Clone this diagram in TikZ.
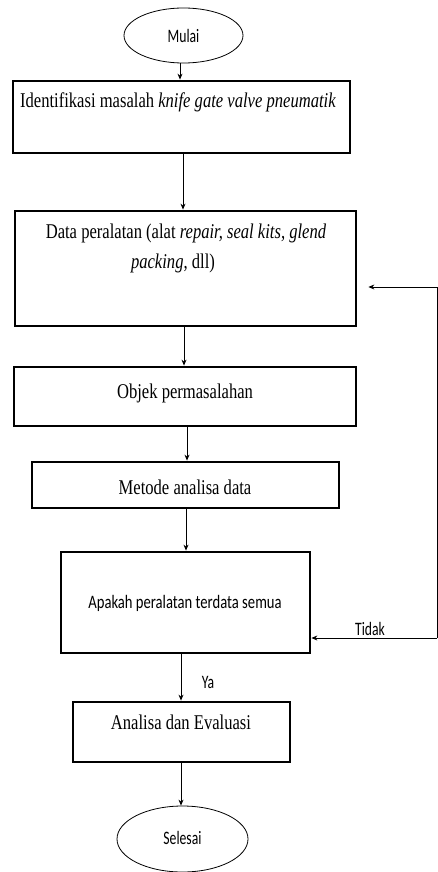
\documentclass[tikz,border=0pt]{standalone}
\usepackage{fontspec}
\setmainfont{Liberation Serif}
\newfontfamily\carl{Carlito}
\usetikzlibrary{shapes.geometric,arrows.meta}
\begin{document}
\begin{tikzpicture}[x=1pt,y=-1pt,
  boxst/.style={draw,line width=2.8pt,inner sep=0pt},
  ovalst/.style={draw,ellipse,line width=0.8pt,inner sep=0pt},
  arr/.style={line width=0.8pt,-{Stealth[length=6pt,width=5pt]}},
  sertext/.style={font=\fontsize{21}{30}\selectfont,xscale=0.79,transform shape,inner sep=0pt,align=center},
  santext/.style={font=\carl\fontsize{19}{23}\selectfont,xscale=0.72,transform shape,inner sep=0pt}]
\useasboundingbox (0,0) rectangle (438,872);
% shapes
\node[ovalst,minimum width=119pt,minimum height=55pt] (start) at (183.5,35.5) {};
\node[boxst,minimum width=337pt,minimum height=72pt] (b1) at (181.5,117) {};
\node[boxst,minimum width=341pt,minimum height=115pt] (b2) at (185.5,268.5) {};
\node[boxst,minimum width=342pt,minimum height=59pt] (b3) at (185,396.5) {};
\node[boxst,minimum width=307pt,minimum height=46pt] (b4) at (185.5,485) {};
\node[boxst,minimum width=249pt,minimum height=101pt] (b5) at (185.5,602.5) {};
\node[boxst,minimum width=217pt,minimum height=60pt] (b6) at (181.5,732) {};
\node[ovalst,minimum width=131pt,minimum height=66pt] (stop) at (182.5,839) {};
% texts
\node[santext] (tstart) at (183.5,35.5) {Mulai};
\node[sertext] (t1) at (178,102) {Identifikasi masalah \textit{knife gate valve pneumatik}};
\node[sertext] (t2) at (186,248.5) {Data peralatan (alat \textit{repair, seal kits, glend}\\\hspace*{-33pt}\textit{packing}, dll)};
\node[sertext] (t3) at (185,393) {Objek permasalahan};
\node[sertext] (t4) at (185,487) {Metode analisa data};
\node[santext,xscale=1.07] (t5) at (185,603) {Apakah peralatan terdata semua};
\node[sertext] (t6) at (181,722) {Analisa dan Evaluasi};
\node[santext] (tstop) at (182.5,838) {Selesai};
\node[santext] (tidak) at (370,629) {Tidak};
\node[santext] (ya) at (208,682) {Ya};
% connectors
\coordinate (r1) at (437,287);
\coordinate (r2) at (437,638);
\draw[arr] (start.south -| 180,0) -- (b1.north -| 180,0);
\draw[arr] (b1.south -| 183,0) -- (b2.north -| 183,0);
\draw[arr] (b2.south -| 184,0) -- (b3.north -| 184,0);
\draw[arr] (b3.south -| 187,0) -- (b4.north -| 187,0);
\draw[arr] (b4.south -| 186,0) -- (b5.north -| 186,0);
\draw[arr] (b5.south -| 181,0) -- (b6.north -| 181,0);
\draw[arr] (b6.south -| 181,0) -- (stop.north -| 181,0);
\draw[arr] (r2) -- (b5.east |- r2);
\draw[arr,shorten >=11pt] (r2) -- (r1) -- (b2.east |- r1);
\end{tikzpicture}
\end{document}
